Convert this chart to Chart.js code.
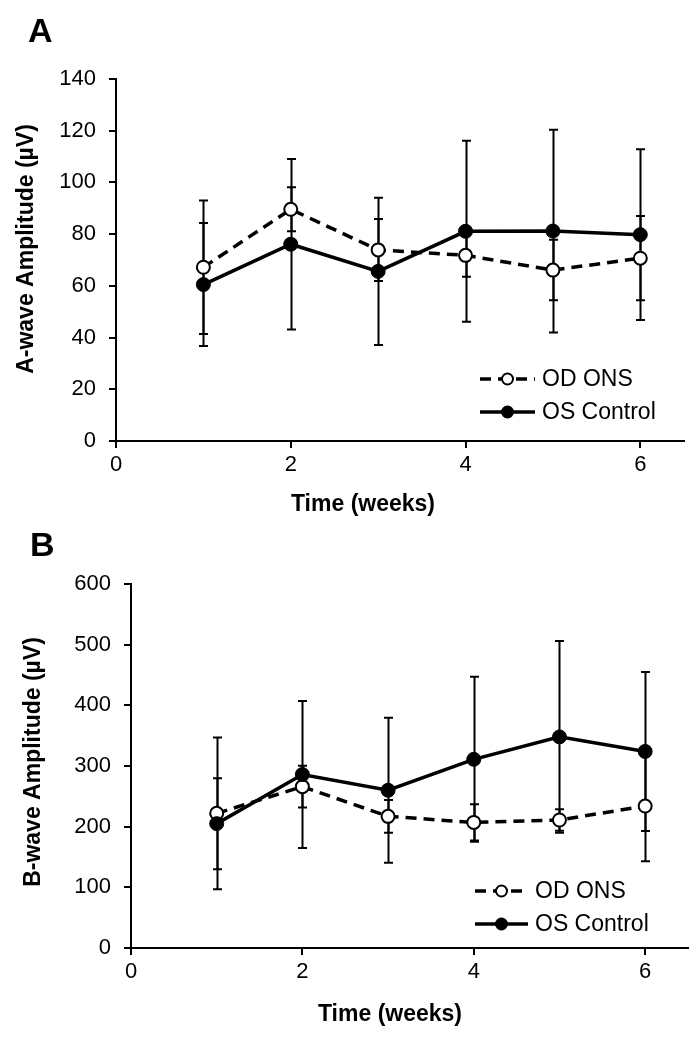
<!DOCTYPE html>
<html>
<head>
<meta charset="utf-8">
<script src="https://cdn.jsdelivr.net/npm/chart.js@4.4.1/dist/chart.umd.min.js"></script>
<style>
  html, body { margin: 0; padding: 0; background: #fff; }
  #wrap { position: relative; width: 698px; height: 1042px; }
  canvas { position: absolute; left: 0; }
</style>
</head>
<body>
<div id="wrap">
  <canvas id="chartA" width="698" height="521" style="top:0px"></canvas>
  <canvas id="chartB" width="698" height="521" style="top:521px"></canvas>
</div>
<script>
// weeks after surgery
var weeks = [1, 2, 3, 4, 5, 6];
var xTicks = [0, 2, 4, 6];
var seriesNames = ['OD ONS', 'OS Control'];

// A-wave (uV)
var aOD = [67.2, 89.6, 73.9, 71.8, 66.1, 70.7];
var aODErr = [25.8, 8.5, 12, 8.3, 11.7, 16.3];
var aOS = [60.5, 76.1, 65.6, 81.1, 81.2, 79.8];
var aOSErr = [23.8, 33, 28.5, 35, 39.2, 33];
var yTicksA = [0, 20, 40, 60, 80, 100, 120, 140];

// B-wave (uV)
var bOD = [222, 266, 217, 207, 211, 234];
var bODErr = [125, 34.5, 27, 30, 17.7, 91];
var bOS = [205, 286, 260, 311, 348, 324];
var bOSErr = [75, 121, 119.5, 136, 158, 131];
var yTicksB = [0, 100, 200, 300, 400, 500, 600];

var FONT = '"Liberation Sans", Arial, sans-serif';

function pts(xs, ys) {
    return xs.map(function (x, i) { return { x: x, y: ys[i] }; });
}

// error bars drawn under the lines / markers
var errorBars = {
    id: 'errorBars',
    beforeDatasetsDraw: function (chart) {
        var ctx = chart.ctx;
        var xs = chart.scales.x, ys = chart.scales.y;
        ctx.save();
        ctx.strokeStyle = '#000';
        ctx.lineWidth = 2;
        chart.data.datasets.forEach(function (ds) {
            ds.data.forEach(function (p, i) {
                var e = ds.errors[i];
                var px = Math.round(xs.getPixelForValue(p.x)) + 0.5;
                var top = ys.getPixelForValue(p.y + e);
                var bot = ys.getPixelForValue(p.y - e);
                ctx.beginPath();
                ctx.moveTo(px, top); ctx.lineTo(px, bot);
                ctx.moveTo(px - 4.5, top); ctx.lineTo(px + 4.5, top);
                ctx.moveTo(px - 4.5, bot); ctx.lineTo(px + 4.5, bot);
                ctx.stroke();
            });
        });
        ctx.restore();
    }
};

// panel letter, axis titles and legend
var decor = {
    id: 'decor',
    afterDraw: function (chart, args, opts) {
        var ctx = chart.ctx;
        ctx.save();
        ctx.fillStyle = '#000';
        ctx.font = 'bold 34px ' + FONT;
        ctx.textBaseline = 'alphabetic';
        ctx.textAlign = 'left';
        ctx.fillText(opts.letter, opts.letterX, opts.letterY);

        ctx.font = 'bold 23px ' + FONT;
        ctx.textAlign = 'center';
        ctx.textBaseline = 'middle';
        ctx.fillText(opts.xTitle, opts.xTitleX, opts.xTitleY);
        ctx.save();
        ctx.translate(opts.yTitleX, opts.yTitleY);
        ctx.rotate(-Math.PI / 2);
        ctx.fillText(opts.yTitle, 0, 0);
        ctx.restore();

        var lg = opts.legend;
        seriesNames.forEach(function (name, row) {
            var ds = chart.data.datasets.filter(function (d) { return d.label === name; })[0];
            var y = lg.y + row * lg.gap;
            ctx.beginPath();
            ctx.setLineDash(ds.borderDash || []);
            ctx.lineWidth = ds.borderWidth;
            ctx.strokeStyle = '#000';
            ctx.moveTo(lg.x, y); ctx.lineTo(lg.x + lg.len, y);
            ctx.stroke();
            ctx.setLineDash([]);
            ctx.beginPath();
            ctx.arc(lg.x + lg.len / 2, y, 5.5, 0, Math.PI * 2);
            ctx.fillStyle = ds.pointBackgroundColor;
            ctx.fill();
            ctx.lineWidth = 2;
            ctx.stroke();
            ctx.fillStyle = '#000';
            ctx.font = '23px ' + FONT;
            ctx.textAlign = 'left';
            ctx.textBaseline = 'middle';
            ctx.fillText(ds.label, lg.x + lg.len + 7, y + 1);
        });
        ctx.restore();
    }
};

function makeChart(id, od, odErr, os, osErr, yTicks, cfg) {
    var ctx = document.getElementById(id).getContext('2d');
    return new Chart(ctx, {
        type: 'line',
        data: {
            datasets: [
                {
                    label: seriesNames[0],
                    data: pts(weeks, od),
                    errors: odErr,
                    borderColor: '#000',
                    borderWidth: 3.5,
                    borderDash: [11, 7],
                    pointRadius: 6.5,
                    pointBorderWidth: 2,
                    pointBackgroundColor: '#fff',
                    pointBorderColor: '#000',
                    order: 1
                },
                {
                    label: seriesNames[1],
                    data: pts(weeks, os),
                    errors: osErr,
                    borderColor: '#000',
                    borderWidth: 3.5,
                    pointRadius: 7,
                    pointBorderWidth: 1,
                    pointBackgroundColor: '#000',
                    pointBorderColor: '#000',
                    order: 0
                }
            ]
        },
        options: {
            responsive: false,
            animation: false,
            devicePixelRatio: 1,
            layout: { padding: { left: 0, right: cfg.padRight, top: cfg.padTop, bottom: 0 } },
            plugins: {
                legend: { display: false },
                tooltip: { enabled: false },
                decor: cfg.decor
            },
            scales: {
                x: {
                    type: 'linear',
                    min: 0,
                    max: 6.5,
                    afterBuildTicks: function (s) { s.ticks = xTicks.map(function (v) { return { value: v }; }); },
                    afterFit: function (s) { s.height = cfg.xHeight; },
                    border: { display: true, color: '#000', width: 2 },
                    grid: { drawOnChartArea: false, drawTicks: true, tickLength: 7, color: '#000', lineWidth: 2 },
                    ticks: { color: '#000', padding: 4, font: { family: FONT, size: 22 } }
                },
                y: {
                    min: yTicks[0],
                    max: yTicks[yTicks.length - 1],
                    afterBuildTicks: function (s) { s.ticks = yTicks.map(function (v) { return { value: v }; }); },
                    afterFit: function (s) { s.width = cfg.yWidth; },
                    border: { display: true, color: '#000', width: 2 },
                    grid: { drawOnChartArea: false, drawTicks: true, tickLength: 7, color: '#000', lineWidth: 2 },
                    ticks: { color: '#000', padding: 13, font: { family: FONT, size: 22 } }
                }
            }
        },
        plugins: [errorBars, decor]
    });
}

makeChart('chartA', aOD, aODErr, aOS, aOSErr, yTicksA, {
    padTop: 79, padRight: 14, xHeight: 80, yWidth: 116,
    decor: {
        letter: 'A', letterX: 28, letterY: 42,
        xTitle: 'Time (weeks)', xTitleX: 363, xTitleY: 505,
        yTitle: 'A-wave Amplitude (\u00b5V)', yTitleX: 27, yTitleY: 249,
        legend: { x: 480, y: 379, gap: 33, len: 55 }
    }
});

makeChart('chartB', bOD, bODErr, bOS, bOSErr, yTicksB, {
    padTop: 63, padRight: 10, xHeight: 94, yWidth: 131,
    decor: {
        letter: 'B', letterX: 30, letterY: 35,
        xTitle: 'Time (weeks)', xTitleX: 390, xTitleY: 494,
        yTitle: 'B-wave Amplitude (\u00b5V)', yTitleX: 34, yTitleY: 241,
        legend: { x: 475, y: 370, gap: 33, len: 53 }
    }
});
</script>
</body>
</html>
